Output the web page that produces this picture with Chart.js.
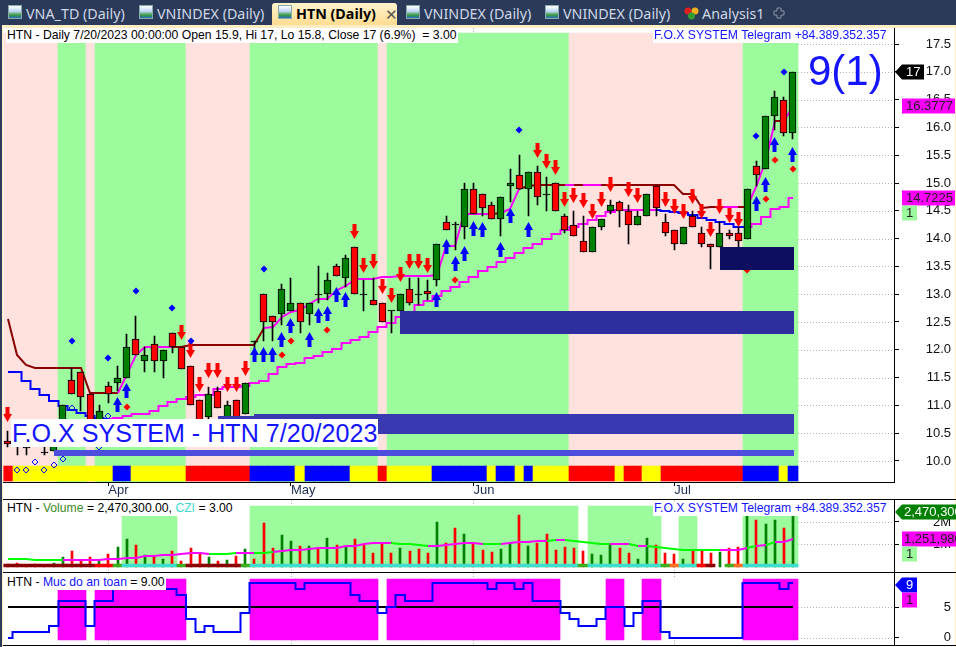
<!DOCTYPE html>
<html>
<head>
<meta charset="utf-8">
<title>HTN</title>
<script src="https://cdn.jsdelivr.net/npm/chart.js@4/dist/chart.umd.min.js"></script>
<style>
html,body{margin:0;padding:0;background:#fff;overflow:hidden}
#page{position:relative;width:956px;height:647px;overflow:hidden;font-family:"Liberation Sans",Arial,sans-serif;color:#000}
canvas{position:absolute;left:0}
.abs{position:absolute}
.line{position:absolute;left:3px;right:0;height:1px;background:#000}
#tabs{position:absolute;left:0;top:0;width:956px;height:25px;background:#2b3a58}
.tab{position:absolute;top:5px;font:14.3px/18px "Noto Sans",sans-serif;color:#cfd8e8;white-space:nowrap}
.ico{position:absolute;top:5px;width:14px;height:14px;border:1px solid #8aa;box-sizing:border-box;background:linear-gradient(#fff 0,#bcd6f4 45%,#3a9a3a 75%,#2a6fc0 100%)}
#active{position:absolute;left:272px;top:3px;width:125px;height:22px;border-radius:3px 3px 0 0;background:linear-gradient(#fff3cf,#ffdc90)}
.txt{position:absolute;background:#fff;white-space:nowrap;font-size:12.2px;line-height:15px;padding:0 1px}
</style>
</head>
<body>
<div id="page">
  <div class="abs" style="left:0;top:0;width:2px;height:647px;background:#2b3a58"></div>
  <div class="abs" style="left:2px;top:25px;width:954px;height:3px;background:#ffeec4"></div>
  <div class="abs" style="left:2px;top:25px;width:1px;height:622px;background:#ffeec4"></div>
  <div class="abs" style="left:955px;top:25px;width:1px;height:622px;background:#ffeec4"></div>

  <canvas id="mainChart" width="956" height="471" style="top:28px;width:956px;height:471px"></canvas>
  <canvas id="volChart" width="956" height="72" style="top:500px;width:956px;height:72px"></canvas>
  <canvas id="safeChart" width="956" height="72" style="top:573px;width:956px;height:72px"></canvas>

  <div class="line" style="top:499px"></div>
  <div class="line" style="top:572px"></div>
  <div class="line" style="top:645px"></div>

  <div id="tabs">
    <div class="ico" style="left:8px"></div><div class="tab" style="left:26px">VNA_TD (Daily)</div>
    <div class="ico" style="left:139px"></div><div class="tab" style="left:157px">VNINDEX (Daily)</div>
    <div id="active"></div>
    <div class="ico" style="left:278px"></div><div class="tab" style="left:296px;color:#000;font-weight:700">HTN (Daily)</div>
    <div class="tab" style="left:385px;color:#555;font-size:15px">✕</div>
    <div class="ico" style="left:406px"></div><div class="tab" style="left:424px">VNINDEX (Daily)</div>
    <div class="ico" style="left:545px"></div><div class="tab" style="left:563px">VNINDEX (Daily)</div>
    <svg class="abs" style="left:684px;top:6px" width="15" height="14"><circle cx="4" cy="5" r="3.5" fill="#e02020"/><circle cx="11" cy="5" r="3.5" fill="#f0b020"/><circle cx="7.5" cy="10" r="3.5" fill="#30a030"/></svg>
    <div class="tab" style="left:702px">Analysis1</div>
    <svg class="abs" style="left:773px;top:7px" width="12" height="12"><path d="M4 1h4v3h3v4H8v3H4V8H1V4h3z" fill="none" stroke="#8a93a5"/></svg>
  </div>

  <div class="txt" style="left:6px;top:28px">HTN - Daily 7/20/2023 00:00:00 Open 15.9, Hi 17, Lo 15.8, Close 17 (6.9%) &nbsp;= 3.00</div>
  <div class="txt" style="left:653px;top:28px;color:#1414ff">F.O.X SYSTEM Telegram +84.389.352.357</div>
  <div class="abs" style="left:808px;top:46px;font-size:42px;line-height:50px;color:#1414ff">9(1)</div>
  <div class="txt" style="left:11px;top:419px;height:28px;font-size:25.1px;line-height:28px;color:#1414ff">F.O.X SYSTEM - HTN 7/20/2023</div>

  <div class="txt" style="left:6px;top:501px">HTN - <span style="color:#3c8c1e">Volume</span> = 2,470,300.00, <span style="color:#40d8d0">CZI</span> = 3.00</div>
  <div class="txt" style="left:653px;top:501px;color:#1414ff">F.O.X SYSTEM Telegram +84.389.352.357</div>
  <div class="txt" style="left:6px;top:575px">HTN - <span style="color:#1414ff">Muc do an toan</span> = 9.00</div>
</div>

<script>
// gia theo tung phien, 87 phien tu cuoi thang 3 den 20/7/2023
const opens = [10.36,10.3,10.25,10.4,10.16,10.18,10.6,11.46,11.6,11.2,10.6,11.35,11.4,11.5,12.2,11.8,12.1,11.8,12.3,12.05,11.7,11.1,10.8,11.25,10.8,11.1,10.85,12.15,13.0,12.6,12.65,12.7,12.85,12.65,13.0,13.0,13.5,13.3,13.85,13.0,12.9,12.85,12.7,12.7,13.1,13.0,13.05,13.25,14.3,14.25,14.2,14.9,14.8,14.6,14.35,14.95,15.15,14.9,15.2,14.8,15.0,14.4,14.25,13.95,13.75,14.2,14.5,14.65,14.5,14.25,14.4,14.95,14.3,14.15,13.9,14.4,14.1,13.9,13.85,14.1,14.1,14.0,15.3,15.25,16.2,16.5,15.9];
const closes = [10.31,10.3,10.25,10.4,10.16,10.5,11.0,11.21,11.15,10.6,10.9,11.2,11.5,12.05,11.9,11.9,11.8,12.0,12.05,11.65,11.0,10.7,11.2,10.95,11.0,10.75,11.4,12.15,12.5,12.5,13.1,12.85,12.5,12.85,13.0,13.25,13.33,13.65,13.0,13.0,12.8,12.5,12.7,13.0,12.85,13.0,13.0,13.9,14.15,14.25,14.9,14.45,14.55,14.35,14.75,15.0,14.9,15.2,14.75,14.8,14.5,14.15,14.05,13.75,14.2,14.35,14.6,14.5,14.25,14.4,14.8,14.55,14.1,13.9,14.2,14.2,13.9,13.85,14.1,14.05,13.95,14.9,15.15,16.2,16.55,15.9,17.0];
const highs = [10.54,10.4,10.25,10.45,10.25,10.6,11.0,11.67,11.6,11.2,11.0,11.42,11.7,12.28,12.6,12.05,12.25,12.0,12.3,12.05,11.7,11.1,11.33,11.33,11.08,11.1,11.4,12.15,13.0,12.6,13.18,13.3,12.85,12.85,13.5,13.38,13.55,13.7,13.85,13.25,13.3,12.85,12.7,13.0,13.3,13.3,13.25,13.9,14.4,14.3,15.0,15.0,14.8,14.65,14.75,15.25,15.5,15.2,15.3,15.1,15.0,14.45,14.5,14.4,14.2,14.35,14.7,14.68,14.6,14.5,14.8,14.95,14.45,14.15,14.2,14.5,14.2,13.9,14.3,14.15,14.2,14.9,15.4,16.2,16.65,16.55,17.0];
const lows = [10.25,10.11,10.11,10.3,10.11,10.18,10.6,11.21,10.9,10.6,10.55,11.05,11.25,11.5,11.9,11.6,11.6,11.5,11.95,11.65,11.0,10.7,10.7,10.95,10.7,10.7,10.85,11.95,12.15,12.15,12.45,12.7,12.3,12.45,12.85,12.9,13.33,13.13,13.0,12.7,12.8,12.5,12.3,12.7,12.8,12.8,12.9,13.15,14.15,13.8,14.0,14.45,14.4,14.35,14.05,14.65,14.9,14.4,14.6,14.5,14.5,14.1,14.05,13.75,13.75,14.15,14.45,14.2,13.9,14.25,14.4,14.4,14.05,13.8,13.9,14.2,13.85,13.45,13.85,14.0,13.85,14.0,14.95,15.25,15.95,15.85,15.8];

// duong chan tren va duong bac thang duoi
const upperLine = [12.56,11.91,11.73,11.68,11.67,11.67,11.67,11.67,11.67,11.22,11.22,11.22,11.22,11.57,11.91,12.05,12.05,12.05,12.05,12.05,12.09,12.09,12.09,12.09,12.09,12.09,12.09,12.09,12.39,12.41,12.59,12.68,12.72,12.83,12.92,12.92,13.08,13.15,13.28,13.28,13.28,13.31,13.31,13.33,13.33,13.33,13.33,13.35,13.87,13.87,14.44,14.44,14.44,14.44,14.46,14.53,14.89,14.95,14.97,14.97,14.97,14.97,14.97,14.97,14.97,14.97,14.97,14.97,14.97,14.97,14.97,14.97,14.97,14.97,14.80,14.80,14.55,14.57,14.57,14.57,14.57,14.57,14.93,15.42,16.12,16.12,16.3777];
const upperState = [0,0,0,0,0,0,0,0,0,0,0,0,1,1,1,1,1,1,0,0,0,0,0,0,0,0,0,0,1,1,1,1,1,1,1,1,1,1,1,1,1,1,1,1,1,1,1,1,1,1,1,1,1,0,1,1,0,0,0,0,0,1,0,1,1,0,0,0,0,0,0,0,0,0,0,0,0,0,1,1,0,1,1,1,0,1,1];
const lowerLine = [11.60,11.60,11.44,11.30,11.19,11.08,10.99,10.92,10.86,10.81,10.77,10.76,10.77,10.81,10.85,10.85,10.90,10.99,11.06,11.12,11.15,11.19,11.19,11.30,11.33,11.33,11.35,11.40,11.44,11.57,11.69,11.75,11.76,11.85,11.89,11.96,12.02,12.12,12.18,12.23,12.32,12.41,12.48,12.59,12.68,12.81,12.88,12.97,13.06,13.13,13.22,13.31,13.42,13.49,13.58,13.65,13.74,13.83,13.90,13.99,14.08,14.16,14.21,14.26,14.34,14.41,14.48,14.52,14.52,14.52,14.52,14.52,14.50,14.48,14.46,14.43,14.37,14.34,14.30,14.26,14.21,14.21,14.26,14.39,14.53,14.57,14.7225];
const lowerState = [0,0,0,0,0,0,0,0,0,0,0,1,1,1,1,1,1,1,1,1,1,1,1,1,1,1,1,1,1,1,1,1,1,1,1,1,1,1,1,1,1,1,1,1,1,1,1,1,1,1,1,1,1,1,1,1,1,1,1,1,1,1,1,1,1,1,1,1,1,1,1,0,0,0,0,0,0,0,0,0,0,1,1,1,1,1,1];

// nen: 1 = xanh, 0 = hong; ribbon: R do, Y vang, B xanh
const bandState = [0,0,0,0,0,0,1,1,1,0,1,1,1,1,1,1,1,1,1,1,0,0,0,0,0,0,0,1,1,1,1,1,1,1,1,1,1,1,1,1,1,0,1,1,1,1,1,1,1,1,1,1,1,1,1,1,1,1,1,1,1,1,0,0,0,0,0,0,0,0,0,0,0,0,0,0,0,0,0,0,0,1,1,1,1,1,1];
const ribbonState = ("R"+"YYYYYYYYYYY"+"BB"+"YYYYYY"+"RRRRRRR"+"BBBBB"+"Y"+"BBBBB"+"YYY"+"R"+"YYYYY"+"BBBBBB"+"Y"+"BB"+"Y"+"B"+"YYYY"+"RRRRR"+"Y"+"RR"+"YY"+"RRRRRRRRR"+"BBBB"+"Y"+"B").split("");

// mui ten, cham: [phien, gia]
const sellArrows = [[0,10.83],[19,12.32],[20,11.98],[21,11.37],[22,11.62],[23,11.62],[24,11.37],[25,11.37],[26,11.67],[38,14.12],[39,13.51],[40,13.58],[41,13.13],[42,12.97],[43,13.35],[44,13.58],[45,13.58],[46,13.51],[58,15.58],[59,15.38],[60,15.27],[61,14.71],[62,14.77],[63,14.68],[64,14.48],[65,14.71],[66,14.97],[68,14.88],[69,14.77],[72,14.70],[73,14.57],[74,14.48],[75,14.75],[76,14.48],[77,14.17],[78,14.57],[79,14.41],[80,14.35]];
const buyArrows = [[12,11.01],[13,11.26],[27,11.91],[28,11.91],[29,11.91],[30,12.18],[31,12.43],[33,12.18],[34,12.61],[35,12.65],[36,12.99],[37,12.90],[47,12.90],[48,13.85],[49,13.55],[50,13.74],[51,14.19],[52,14.16],[54,13.80],[55,14.41],[57,14.16],[82,14.64],[83,14.98],[84,15.69],[86,15.52]];
const blueDots = [[7,12.16],[11,11.85],[14,13.06],[18,12.75],[20,12.16],[28,13.46],[56,15.96],[82,15.85],[85,17.0]];
const redDots = [[13,10.97],[30,11.91],[31,12.16],[35,12.36],[49,13.26],[81,13.44],[83,14.71],[84,15.42],[86,15.25]];
const hollowDots = [[1,9.84],[2,9.84],[3,9.99],[4,9.84],[5,9.93],[6,10.04],[7,10.95],[10,10.25],[11,10.81]];

// vung ho tro: [phien dau, phien cuoi, gia duoi, gia tren]
const zones = [[78,86,13.44,13.85,"dark"],[43,86,12.29,12.70,"mid"],[27,86,10.49,10.85,"mid2"],[23,27,10.49,10.81,"mid2"],[5,86,10.09,10.20,"thin"]];

const priceTicks = [10,10.5,11,11.5,12,12.5,13,13.5,14,14.5,15,15.5,16,16.5,17,17.5];
const monthTicks = [11,31,51,73];
const monthNames = ["Apr","May","Jun","Jul"];

// volume, trieu co phieu
const volumes = [0.1,0.16,0.09,0.1,0.09,0.16,0.43,0.7,0.31,0.43,0.27,0.57,0.88,1.24,0.97,0.52,0.49,0.34,0.7,0.25,0.84,0.6,0.43,0.25,0.31,0.48,0.79,0.36,1.97,0.84,1.42,1.17,0.94,0.94,0.79,1.3,0.99,0.87,1.26,0.99,0.63,1.03,0.63,0.85,0.72,0.81,0.63,2.02,1.08,1.75,1.48,1.08,0.76,0.67,0.81,1.08,2.33,0.94,1.08,1.48,0.76,0.9,0.85,0.72,0.58,0.54,1.03,0.85,0.63,0.36,1.3,0.99,0.63,0.58,0.36,0.72,0.72,0.63,0.67,0.85,0.9,2.4,2.11,1.93,2.11,1.75,2.4703];
const volUp = [0,0,0,0,0,1,1,0,0,0,1,0,1,1,0,1,0,1,0,0,0,0,1,0,1,0,1,0,0,0,1,1,0,1,0,1,0,1,0,0,0,0,0,1,0,0,0,1,0,0,1,0,0,0,1,1,0,1,0,0,0,0,0,0,1,1,1,0,0,1,1,0,0,0,1,0,0,0,1,0,0,1,0,1,1,0,1];
const volAvg = [0.36,0.36,0.36,0.31,0.31,0.31,0.31,0.31,0.31,0.31,0.31,0.33,0.33,0.40,0.40,0.48,0.48,0.51,0.51,0.55,0.63,0.63,0.58,0.58,0.58,0.6,0.6,0.61,0.61,0.67,0.7,0.73,0.76,0.79,0.82,0.85,0.85,0.91,0.94,1.0,1.05,1.05,1.05,1.03,1.0,0.96,0.91,0.91,0.97,1.03,1.05,1.05,1.03,1.0,1.0,1.05,1.12,1.12,1.14,1.17,1.21,1.21,1.17,1.12,1.05,1.03,1.03,1.0,1.0,0.94,0.94,0.9,0.85,0.81,0.73,0.73,0.73,0.73,0.73,0.73,0.73,0.82,0.94,0.99,1.12,1.12,1.25198];
const volAvgState = [0,0,0,0,0,0,1,1,1,1,1,1,1,1,1,1,1,1,1,1,1,1,0,0,0,1,1,0,0,1,1,1,1,1,1,1,1,1,1,1,1,1,0,0,0,0,1,1,1,1,1,1,0,0,1,1,1,1,1,0,1,0,0,0,0,0,1,1,0,1,0,0,0,0,0,0,0,0,1,1,1,0,1,0,1,1,1];
// 0 = khong to, 1 = to toi 2.27M, 2 = to toi 2.72M
const volBandState = [0,0,0,0,0,0,0,0,0,0,0,0,0,1,1,1,1,1,1,0,0,0,0,0,0,0,0,2,2,2,2,2,2,2,2,2,2,2,2,2,2,2,2,2,2,2,2,2,2,2,2,2,2,2,2,2,2,2,2,2,2,2,2,0,2,2,2,2,2,2,2,2,0,0,1,1,0,0,0,0,0,1,1,1,1,1,1];
const cziState = ("DDDDDDDDDD"+"RR"+"G"+"TTTTTT"+"G"+"DDDDDD"+"G"+"TTTTTTTTTTTTTTTTTTTTTTTTTTTTTTTTTTTT"+"G"+"TTTTTTTT"+"G"+"O"+"TT"+"R"+"D"+"."+"G"+"O"+"TTTTTT").split("");
const volTicks = [1,2];

// muc do an toan
const safety = [0,1,1,1,1,2,6,6,6,2,6,6,8,8,8,8,8,8,8,7,3,1,2,1,1,1,4,9,9,9,9,9,8,9,9,9,9,9,7,6,6,4,5,7,6,6,6,9,9,9,9,9,9,8,9,9,8,9,6,6,6,4,3,2,2,3,5,5,2,4,6,6,1,0,0,0,0,0,0,0,0,9,9,9,9,8,9];
const safeTicks = [0,5];

const C = {
  green:"#9cfb9c", pink:"#ffe1de", candleUp:"#008000", candleDown:"#ff0000",
  darkRed:"#8b0000", magenta:"#ff00ff", blue:"#0000ff", lime:"#00ff00",
  zone:{dark:"#0e0e60",mid:"#2e2ea0",mid2:"#3838b0",thin:"#4e4edc"},
  ribbon:{R:"#ff0000",Y:"#ffff00",B:"#0000ff"},
  czi:{D:"#8b0000",R:"#ff0000",G:"#3cb01e",T:"#40dcd0",O:"#ff7020"}
};
const FONT = '"Liberation Sans",Arial,sans-serif';
const BAR = 9.128, LAST = 86;
const xMax = (894 - 3.4) / BAR - 0.5;

const series = arr => arr.map((y, x) => ({x, y}));
const pairs = arr => arr.map(([x, y]) => ({x, y}));

// mui ten ve san len canvas nho roi dung lam pointStyle
function arrow(color, up) {
  const c = document.createElement("canvas");
  c.width = 9; c.height = 15;
  const g = c.getContext("2d");
  g.fillStyle = color;
  g.beginPath();
  if (up) { g.moveTo(4.5,0); g.lineTo(9,8); g.lineTo(6.5,8); g.lineTo(6.5,15); g.lineTo(2.5,15); g.lineTo(2.5,8); g.lineTo(0,8); }
  else { g.moveTo(4.5,15); g.lineTo(9,7); g.lineTo(6.5,7); g.lineTo(6.5,0); g.lineTo(2.5,0); g.lineTo(2.5,7); g.lineTo(0,7); }
  g.closePath(); g.fill();
  return c;
}

function barSet(data, color, order, thickness, extra) {
  return Object.assign({type:"bar", data, backgroundColor:color, order, barThickness:thickness, grouped:false, borderWidth:0}, extra || {});
}
function lineSet(data, order, extra) {
  return Object.assign({type:"line", data, order, pointRadius:0, borderWidth:2, fill:false}, extra || {});
}
function dotSet(data, order, style, color, radius, extra) {
  return Object.assign({type:"scatter", data, order, showLine:false, pointStyle:style, pointRadius:radius, backgroundColor:color, borderColor:color, borderWidth:0}, extra || {});
}

// ve cho sac net nhu anh goc
const snapPlugin = {
  id:"snap",
  afterDatasetsUpdate(chart) {
    chart.getSortedVisibleDatasetMetas().forEach(meta => {
      meta.data.forEach(el => {
        if (meta.type === "bar") {
          const l = Math.round(el.x - el.width / 2);
          let r = Math.round(el.x + el.width / 2);
          if (r <= l) r = l + 1;
          el.x = (l + r) / 2;
          el.width = r - l;
          el.y = Math.round(el.y);
          el.base = Math.round(el.base);
          if (el.y === el.base) el.base = el.y + 1;
        } else if (chart.data.datasets[meta.index].pointStyle instanceof HTMLCanvasElement) {
          el.x = Math.floor(el.x) + 0.5; el.y = Math.floor(el.y) + 0.5;
        } else {
          el.x = Math.round(el.x); el.y = Math.round(el.y);
        }
      });
    });
  }
};

// duong cham ngang ben phai va doan cham doc o thang
const gridPlugin = {
  id:"dotGrid",
  beforeDatasetsDraw(chart, args, opts) {
    const {ctx, scales:{x, y}, chartArea:a} = chart;
    ctx.save();
    ctx.strokeStyle = "#b4b4b4"; ctx.lineWidth = 1; ctx.setLineDash([1,2]);
    const from = Math.round(x.getPixelForValue(LAST + 0.5));
    y.ticks.forEach(t => {
      const py = Math.round(y.getPixelForValue(t.value)) + 0.5;
      ctx.beginPath(); ctx.moveTo(from, py); ctx.lineTo(a.right, py); ctx.stroke();
    });
    monthTicks.forEach(m => {
      const px = Math.round(x.getPixelForValue(m)) + 0.5;
      (opts.stubs || []).forEach(([v0, v1]) => {
        ctx.beginPath(); ctx.moveTo(px, y.getPixelForValue(v0)); ctx.lineTo(px, y.getPixelForValue(v1)); ctx.stroke();
      });
    });
    ctx.restore();
  }
};

// cac khoi vung ho tro nam tren cung
const zonePlugin = {
  id:"zoneBoxes",
  afterDatasetsDraw(chart, args, opts) {
    const {ctx, scales:{x, y}} = chart;
    (opts.items || []).forEach(([i0, i1, lo, hi, kind]) => {
      const l = Math.round(x.getPixelForValue(i0)), r = Math.round(x.getPixelForValue(i1)) + 1;
      const t = Math.round(y.getPixelForValue(hi)), b = Math.round(y.getPixelForValue(lo));
      ctx.fillStyle = C.zone[kind];
      ctx.fillRect(l, t, r - l, b - t);
    });
  }
};

// nhan gia o truc phai
const tagPlugin = {
  id:"tags",
  afterDraw(chart, args, opts) {
    const {ctx, scales:{y}} = chart;
    ctx.save();
    ctx.font = "13px " + FONT;
    ctx.textBaseline = "middle";
    (opts.items || []).forEach(tag => {
      const cy = Math.round(y.getPixelForValue(tag.value)) + (tag.dy || 0);
      const h = 15, left = tag.left;
      ctx.fillStyle = tag.bg;
      ctx.beginPath();
      if (tag.pointer) {
        ctx.moveTo(895, cy); ctx.lineTo(902, cy - h / 2); ctx.lineTo(tag.right, cy - h / 2);
        ctx.lineTo(tag.right, cy + h / 2); ctx.lineTo(902, cy + h / 2);
      } else {
        ctx.rect(left, cy - h / 2, tag.right - left, h);
      }
      ctx.closePath(); ctx.fill();
      ctx.fillStyle = tag.color;
      ctx.textAlign = "left";
      ctx.fillText(tag.text, tag.textX, cy + 0.5);
    });
    ctx.restore();
  }
};

function yAxis(min, max, tickValues, format) {
  return {
    position:"right", min, max,
    afterBuildTicks(s) { s.ticks = tickValues.map(value => ({value})); },
    afterFit(s) { s.width = 57; s.paddingTop = 0; s.paddingBottom = 0; },
    ticks:{crossAlign:"far", color:"#111", font:{family:FONT, size:13}, padding:2, callback:format, autoSkip:false, maxRotation:0},
    grid:{drawOnChartArea:false, tickLength:5, color:"#000", tickWidth:1},
    border:{color:"#000", width:1}
  };
}
function hiddenX() {
  return {type:"linear", min:-0.5, max:xMax, offset:false, display:false};
}
function baseOptions(scales, plugins, padBottom) {
  return {
    responsive:false, animation:false, events:[], maintainAspectRatio:false,
    layout:{autoPadding:false, padding:{left:3.4, right:5, top:0, bottom:padBottom || 0}},
    scales,
    plugins:Object.assign({legend:{display:false}, tooltip:{enabled:false}, title:{display:false}}, plugins)
  };
}

const mainPlugins = [snapPlugin, gridPlugin, zonePlugin, tagPlugin];

// bieu do gia
const pxPerUnit = 55.57;
const priceMax = 17.5 + 16 / pxPerUnit, priceMin = 10 - 21 / pxPerUnit;
const bandTop = 17.70, ribbonTop = 9.91, ribbonBottom = 9.64;

const bodies = opens.map((o, i) => {
  const c = closes[i];
  return {x:i, y:o === c ? [o - 0.01, o + 0.01] : [o, c]};
});
const bodyColors = opens.map((o, i) => closes[i] === o ? "#000" : (closes[i] > o ? C.candleUp : C.candleDown));

new Chart(document.getElementById("mainChart"), {
  data:{datasets:[
    barSet(series(bandState).map(p => ({x:p.x, y:[priceMin, bandTop]})), bandState.map(s => s ? C.green : C.pink), 100, BAR + 0.01),
    barSet(ribbonState.map((s, x) => ({x, y:[ribbonBottom, ribbonTop]})), ribbonState.map(s => C.ribbon[s]), 90, BAR + 0.01),
    lineSet(series(lowerLine), 80, {stepped:"middle", segment:{borderColor:c => lowerState[c.p0DataIndex] ? C.magenta : C.blue}}),
    lineSet(series(upperLine), 70, {segment:{borderColor:c => upperState[c.p0DataIndex] ? C.magenta : C.darkRed}}),
    barSet(lows.map((l, i) => ({x:i, y:[l, highs[i]]})), "#000", 60, 1),
    barSet(bodies, bodyColors, 50, 7, {borderColor:"#000", borderWidth:1, borderSkipped:false}),
    dotSet(pairs(sellArrows), 40, arrow("#ff0000", false), "#ff0000", 5),
    dotSet(pairs(buyArrows), 40, arrow("#0000ff", true), "#0000ff", 5),
    dotSet(pairs(blueDots), 30, "rectRot", "#0000ff", 3.5),
    dotSet(pairs(redDots), 30, "rectRot", "#ff0000", 3.5),
    dotSet(pairs(hollowDots), 20, "rectRot", "#ffffff", 3, {borderColor:"#0000ff", borderWidth:1, backgroundColor:"rgba(255,255,255,0)"})
  ]},
  options:baseOptions({
    x:{
      type:"linear", min:-0.5, max:xMax, offset:false, position:"bottom",
      afterBuildTicks(s) { s.ticks = monthTicks.map(value => ({value})); },
      afterFit(s) { s.height = 17; s.paddingLeft = 0; s.paddingRight = 0; },
      ticks:{autoSkip:false, maxRotation:0, align:"start", padding:-3, color:"#1a2a50", font:{family:FONT, size:13},
        callback(v) { return monthNames[monthTicks.indexOf(v)]; }},
      grid:{drawOnChartArea:false, offset:false, tickLength:4, color:"#000"},
      border:{color:"#000", width:1}
    },
    y:yAxis(priceMin, priceMax, priceTicks, v => v.toFixed(1))
  }, {
    dotGrid:{stubs:[[priceMax, bandTop]]},
    zoneBoxes:{items:zones},
    tags:{items:[
      {value:17, text:"17", bg:"#000", color:"#fff", pointer:true, right:924, textX:906},
      {value:upperLine[LAST], text:"16.3777", bg:C.magenta, color:"#222", left:902, right:955, textX:906},
      {value:lowerLine[LAST], text:"14.7225", bg:C.magenta, color:"#222", left:902, right:955, textX:906},
      {value:lowerLine[LAST], dy:15, text:"1", bg:C.green, color:"#222", left:902, right:917, textX:906}
    ]}
  }),
  plugins:mainPlugins
});

// bieu do khoi luong
const volPx = 22.3;
const volMax = 66.6 / volPx, volMin = -5.4 / volPx;
const cziTop = 0.117;
const volBandLevels = [0, 2.27, 2.72];

new Chart(document.getElementById("volChart"), {
  data:{datasets:[
    barSet(volBandState.map((s, x) => ({x, y:s ? [0, volBandLevels[s]] : null})), C.green, 100, BAR + 0.01),
    barSet(series(volumes), volUp.map(u => u ? C.candleUp : C.candleDown), 60, 2),
    lineSet(series(volAvg), 50, {segment:{borderColor:c => volAvgState[c.p0DataIndex] ? C.magenta : C.lime}}),
    barSet(cziState.map((s, x) => ({x, y:s === "." ? null : [0, cziTop]})), cziState.map(s => C.czi[s] || "#fff"), 40, BAR + 0.01)
  ]},
  options:baseOptions({
    x:hiddenX(),
    y:yAxis(volMin, volMax, volTicks, v => v + "M")
  }, {
    dotGrid:{stubs:[[volMax, 2.72], [0, volMin]]},
    tags:{items:[
      {value:volumes[LAST], text:"2,470,300", bg:"#008000", color:"#fff", pointer:true, right:956, textX:904},
      {value:volAvg[LAST], text:"1,251,980", bg:C.magenta, color:"#222", left:902, right:956, textX:904},
      {value:volAvg[LAST], dy:15, text:"1", bg:C.green, color:"#222", left:902, right:917, textX:906}
    ]}
  }),
  plugins:[snapPlugin, gridPlugin, tagPlugin]
});

// muc do an toan
const safePx = 6.08;
const safeMax = 64.7 / safePx, safeMin = -7.3 / safePx;
const safeBandTop = 9.6, safeBandBottom = -0.4, midLevel = 5;

new Chart(document.getElementById("safeChart"), {
  data:{datasets:[
    barSet(safety.map((v, x) => ({x, y:v >= midLevel ? [safeBandBottom, safeBandTop] : null})), C.magenta, 100, BAR + 0.01),
    lineSet(safety.map((_, x) => ({x, y:midLevel})), 60, {borderColor:"#000"}),
    lineSet(series(safety), 50, {borderColor:C.blue, stepped:"middle"})
  ]},
  options:baseOptions({
    x:hiddenX(),
    y:yAxis(safeMin, safeMax, safeTicks, v => String(v))
  }, {
    dotGrid:{stubs:[[safeMax, safeBandTop], [safeBandBottom, safeMin]]},
    tags:{items:[
      {value:safety[LAST], dy:2, text:"9", bg:C.blue, color:"#fff", pointer:true, right:917, textX:906},
      {value:safety[LAST], dy:17, text:"1", bg:C.magenta, color:"#222", left:902, right:917, textX:906}
    ]}
  }),
  plugins:[snapPlugin, gridPlugin, tagPlugin]
});
</script>
</body>
</html>
